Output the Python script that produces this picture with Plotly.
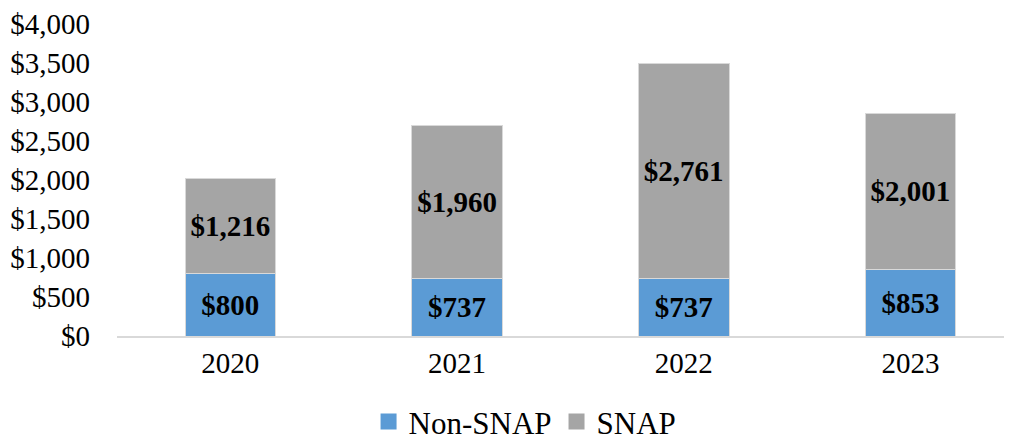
import plotly.graph_objects as go

years = ["2020", "2021", "2022", "2023"]
non_snap = [800, 737, 737, 853]
snap = [1216, 1960, 2761, 2001]
y_ticks = [0, 500, 1000, 1500, 2000, 2500, 3000, 3500, 4000]
y_tick_labels = [f"${v:,}" for v in y_ticks]

FONT = "Liberation Serif"
series = [("Non-SNAP", non_snap, "#5B9BD5"), ("SNAP", snap, "#A5A5A5")]

fig = go.Figure()
for name, vals, color in series:
    fig.add_trace(go.Bar(
        x=years, y=vals, name=name, showlegend=False,
        marker=dict(color=color, line=dict(color="#D9D9D9", width=1)),
        text=[f"${v:,}" for v in vals],
        textposition="inside", insidetextanchor="middle",
        constraintext="none",
        textfont=dict(family=FONT, size=29, color="black", weight="bold"),
        width=0.4,
    ))
# legend entries with square swatches
for name, vals, color in series:
    fig.add_trace(go.Scatter(
        x=[None], y=[None], mode="markers", name=name,
        marker=dict(symbol="square", size=16, color=color),
    ))

# page body has an 8px margin, so the figure is sized to fit inside the window
fig.update_layout(
    template="none",
    barmode="stack",
    width=1004, height=431,
    margin=dict(l=109, r=0, t=16, b=103, autoexpand=False),
    plot_bgcolor="white", paper_bgcolor="white",
    font=dict(family=FONT, size=29, color="black"),
    showlegend=True,
    legend=dict(orientation="h", xref="container", yref="container",
                x=0.515, xanchor="center", y=0.04, yanchor="middle",
                font=dict(family=FONT, size=31, color="black"), traceorder="normal",
                itemsizing="trace", bgcolor="rgba(0,0,0,0)"),
    xaxis=dict(type="category", range=[-0.5, 3.448], showline=True, linecolor="#D9D9D9",
               linewidth=2, ticks="", tickfont=dict(size=29), showgrid=False,
               automargin=False),
    yaxis=dict(range=[0, 4000], tickvals=y_ticks, ticktext=y_tick_labels,
               showgrid=False, zeroline=False, showline=False, ticks="",
               ticklabelstandoff=26, tickfont=dict(size=29), automargin=False),
)

fig.write_html("out.html")
